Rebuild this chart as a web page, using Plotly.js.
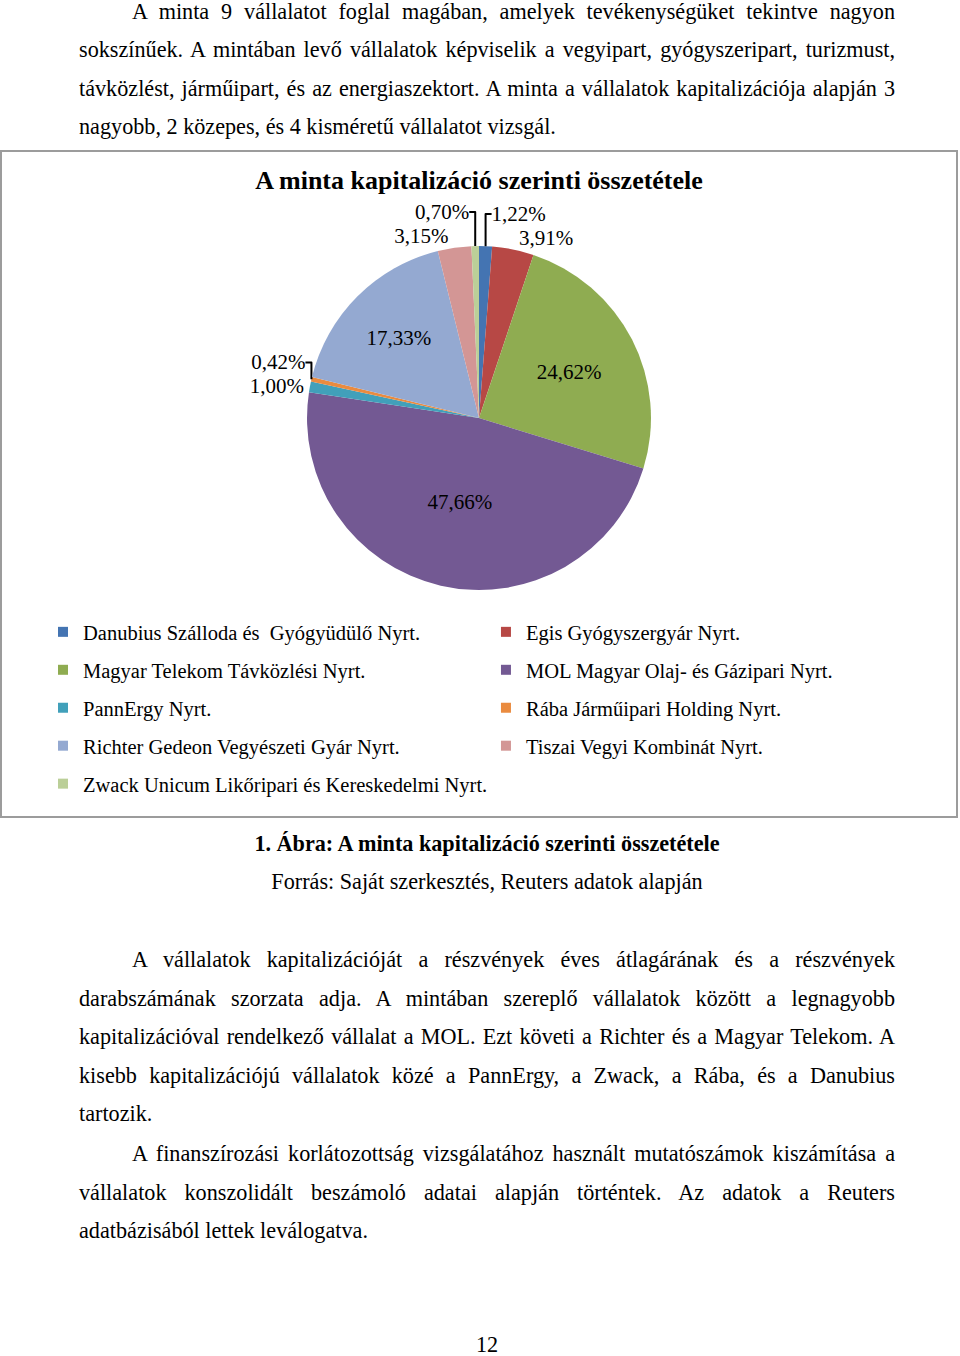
<!DOCTYPE html>
<html><head><meta charset="utf-8">
<script src="https://cdn.plot.ly/plotly-3.0.1.min.js"></script>
<style>
body{margin:0;background:#fff;width:960px;height:1356px;overflow:hidden;position:relative;font-family:"Liberation Serif","Times New Roman",serif;color:#000;}
.ln{position:absolute;left:79px;width:816px;height:38px;line-height:38px;font-size:22.2px;white-space:nowrap;text-align:justify;text-align-last:justify;}
.ln.last{text-align-last:left;}
.ln.ind{left:132px;width:763px;}
.cap{position:absolute;left:79px;width:816px;text-align:center;font-size:22.2px;line-height:38px;height:38px;white-space:nowrap;}
#box{position:absolute;left:0;top:150px;width:958px;height:668px;box-sizing:border-box;border:2px solid #9c9c9c;}
#chart{width:954px;height:664px;}
</style></head>
<body>
<div id="page"></div>
<div id="box"><div id="chart"></div></div>
<script>
// ---- data ----
const chartTitle = "A minta kapitalizáció szerinti összetétele";
const labels = [
  "Danubius Szálloda és  Gyógyüdülő Nyrt.",
  "Egis Gyógyszergyár Nyrt.",
  "Magyar Telekom Távközlési Nyrt.",
  "MOL Magyar Olaj- és Gázipari Nyrt.",
  "PannErgy Nyrt.",
  "Rába Járműipari Holding Nyrt.",
  "Richter Gedeon Vegyészeti Gyár Nyrt.",
  "Tiszai Vegyi Kombinát Nyrt.",
  "Zwack Unicum Likőripari és Kereskedelmi Nyrt."
];
const shares = [1.22, 3.91, 24.62, 47.66, 1.00, 0.42, 17.33, 3.15, 0.70];
const colors = ["#4474B2", "#B74845", "#8FAC51", "#735993", "#41A0BA", "#EA8B3F", "#94A9D1", "#D39695", "#BBCF98"];

const para1 = [
  "A minta 9 vállalatot foglal magában, amelyek tevékenységüket tekintve nagyon",
  "sokszínűek. A mintában levő vállalatok képviselik a vegyipart, gyógyszeripart, turizmust,",
  "távközlést, járműipart, és az energiaszektort. A minta a vállalatok kapitalizációja alapján 3",
  "nagyobb, 2 közepes, és 4 kisméretű vállalatot vizsgál."
];
const captionTitle = "1. Ábra: A minta kapitalizáció szerinti összetétele";
const captionSource = "Forrás: Saját szerkesztés, Reuters adatok alapján";
const para2 = [
  "A vállalatok kapitalizációját a részvények éves átlagárának és a részvények",
  "darabszámának szorzata adja. A mintában szereplő vállalatok között a legnagyobb",
  "kapitalizációval rendelkező vállalat a MOL. Ezt követi a Richter és a Magyar Telekom. A",
  "kisebb kapitalizációjú vállalatok közé a PannErgy, a Zwack, a Rába, és a Danubius",
  "tartozik."
];
const para3 = [
  "A finanszírozási korlátozottság vizsgálatához használt mutatószámok kiszámítása a",
  "vállalatok konszolidált beszámoló adatai alapján történtek. Az adatok a Reuters",
  "adatbázisából lettek leválogatva."
];
const pageNumber = "12";

// ---- page text ----
const page = document.getElementById('page');
function addPara(lines, firstCenter) {
  lines.forEach((t, i) => {
    const d = document.createElement('div');
    d.className = 'ln' + (i === 0 ? ' ind' : '') + (i === lines.length - 1 ? ' last' : '');
    d.style.top = (firstCenter + i * 38.5 - 19) + 'px';
    d.textContent = t;
    page.appendChild(d);
  });
}
function addCap(t, center, bold) {
  const d = document.createElement('div');
  d.className = 'cap';
  d.style.top = (center - 19) + 'px';
  if (bold) d.style.fontWeight = 'bold';
  d.textContent = t;
  page.appendChild(d);
}
addPara(para1, 11.5);
addCap(captionTitle, 844, true);
addCap(captionSource, 882, false);
addPara(para2, 960);
addPara(para3, 1154);
addCap(pageNumber, 1345, false);

// ---- chart ----
const serif = "Liberation Serif, Times New Roman, serif";
const pie = {
  type: 'pie',
  labels: labels,
  values: shares,
  sort: false,
  direction: 'clockwise',
  rotation: 0,
  marker: {colors: colors, line: {width: 0}},
  texttemplate: '%{value:.2f}%',
  textposition: shares.map(v => v > 10 ? 'inside' : 'outside'),
  insidetextorientation: 'horizontal',
  textfont: {family: serif, size: 21, color: '#000'},
  outsidetextfont: {family: serif, size: 21, color: '#000'},
  insidetextfont: {family: serif, size: 21, color: '#000'},
  domain: {x: [0.3197, 0.6803], y: [0.3404, 0.8584]},
  showlegend: false,
  hoverinfo: 'label+percent'
};
const legendTraces = labels.map((name, i) => ({
  type: 'scatter',
  x: [null], y: [null],
  mode: 'markers',
  marker: {symbol: 'square', size: 10, color: colors[i]},
  name: name.replace(/  /g, ' \u00a0'),
  legend: i % 2 === 0 ? 'legend' : 'legend2',
  legendgroup: 'g' + i,
  showlegend: true,
  hoverinfo: 'skip'
}));
const legendBase = {
  y: 0.3072, yanchor: 'top', xanchor: 'left', orientation: 'v',
  font: {family: serif, size: 20.5, color: '#000'},
  tracegroupgap: 8.3, bgcolor: 'rgba(0,0,0,0)', borderwidth: 0
};
const layout = {
  width: 954, height: 664,
  margin: {l: 0, r: 0, t: 0, b: 0, pad: 0},
  paper_bgcolor: '#fff', plot_bgcolor: '#fff',
  separators: ', ',
  showlegend: true,
  title: {
    text: '<b>' + chartTitle + '</b>',
    font: {family: serif, size: 26, color: '#000'},
    x: 0.5, xanchor: 'center', xref: 'paper',
    y: 1 - 28 / 664, yanchor: 'middle', yref: 'container'
  },
  xaxis: {visible: false, fixedrange: true},
  yaxis: {visible: false, fixedrange: true},
  legend: Object.assign({x: 0.043}, legendBase),
  legend2: Object.assign({x: 0.5073}, legendBase)
};
Plotly.newPlot('chart', [pie].concat(legendTraces), layout, {staticPlot: true, displayModeBar: false});
</script>
</body></html>
